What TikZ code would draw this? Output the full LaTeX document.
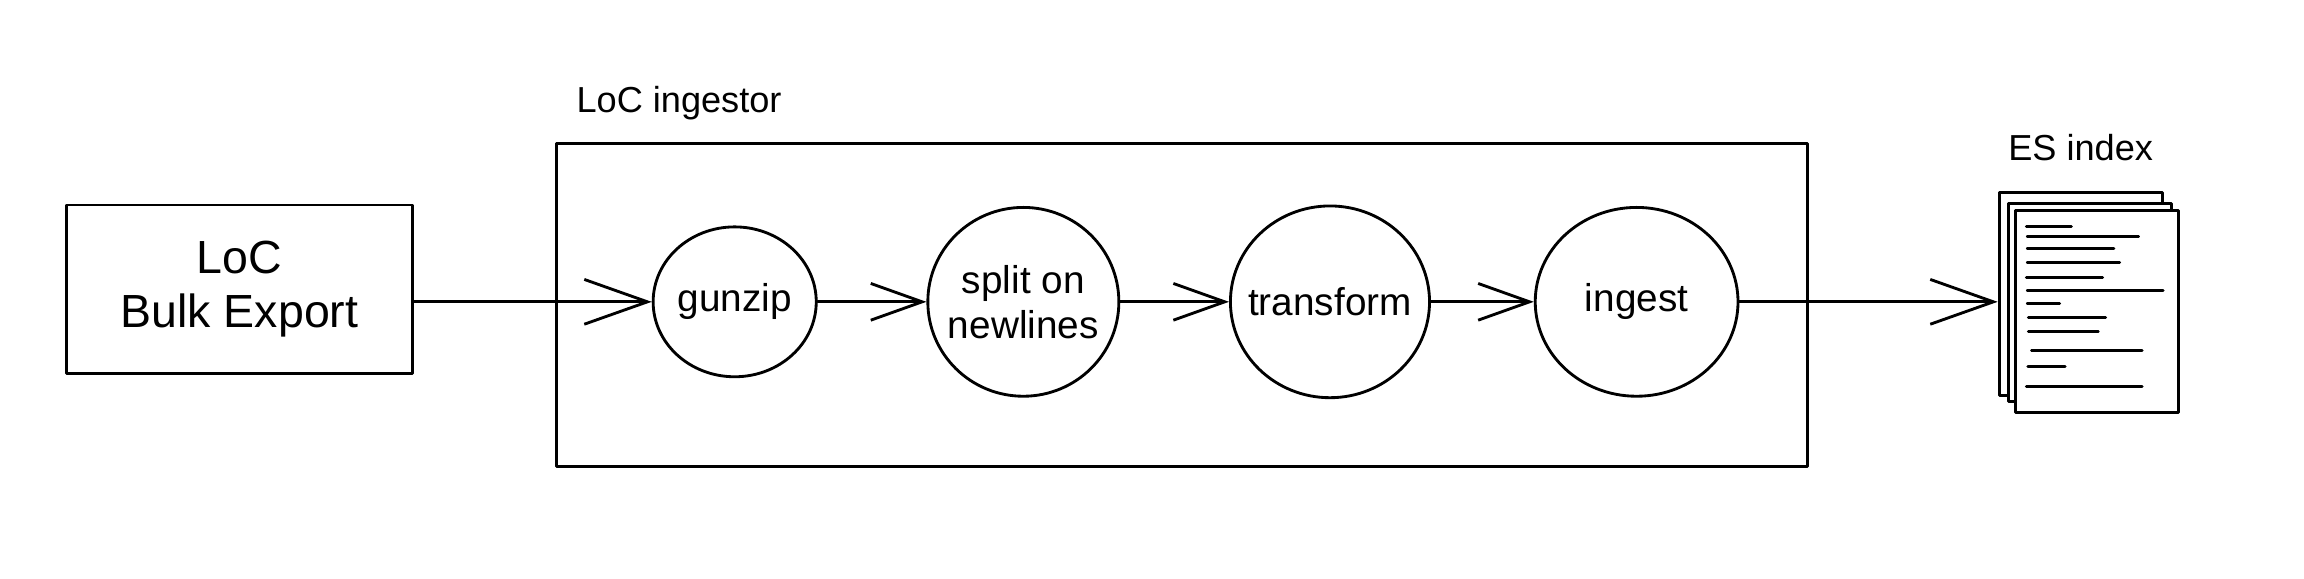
\documentclass[tikz,border=0pt]{standalone}
\usepackage{fontspec}
\setmainfont{Liberation Sans}
\usetikzlibrary{shapes.geometric,positioning,arrows.meta}

\tikzset{
  box/.style={rectangle, draw, line width=1.1pt, inner sep=0pt},
  stage/.style={ellipse, draw, line width=1.1pt, inner xsep=-2mm, inner ysep=0pt, align=center, font=\fontsize{15pt}{17.5pt}\selectfont},
  sheet/.style={rectangle, draw, fill=white, line width=1.1pt, minimum width=22.2mm, inner sep=0pt},
  flow/.style={line width=1.1pt, -{Straight Barb[length=7mm,width=5mm]}},
  longflow/.style={line width=1.1pt, -{Straight Barb[length=8.6mm,width=6.1mm]}},
  caption/.style={font=\fontsize{14pt}{16pt}\selectfont, inner sep=0pt},
}

\begin{document}
\begin{tikzpicture}[x=0.2mm, y=-0.2mm, line cap=round, line join=round, node distance=14.8mm]
    \useasboundingbox (0,0) rectangle (1568,393.4);
    % source and the ingestor frame
    \node (bulk) [box, minimum width=47.2mm, minimum height=22.9mm, align=center, font=\fontsize{18pt}{21pt}\selectfont] at (163,196.8) {LoC\\Bulk Export};
    \node (ingestor) [box, minimum width=170.2mm, minimum height=44mm] at (804.5,207.7) {};
    \node (ingestorlabel) [caption, above right=4.1mm and 2.8mm of ingestor.north west, anchor=base west] {LoC ingestor};

    % pipeline stages
    \node (gunzip) [stage, minimum width=22.2mm, minimum height=20.4mm] at (500,205.4) {gunzip};
    \node (split) [stage, minimum width=26mm, minimum height=25.7mm, right=of gunzip] {split on\\newlines};
    \node (transform) [stage, minimum width=27.1mm, minimum height=26.1mm, right=of split] {transform};
    \node (ingest) [stage, minimum width=27.6mm, minimum height=25.7mm, right=14mm of transform] {ingest};

    % index as a stack of sheets
    \node (esback) [sheet, minimum height=27.6mm] at (1416,200) {};
    \node (esmid) [sheet, minimum height=27mm] at (1422.3,206) {};
    \node (esfront) [sheet, minimum height=27.5mm] at (1427.3,211.8) {};
    \node (eslabel) [caption, above=4.2mm of esback.north, anchor=base] {ES index};
    \foreach \xa/\xb/\y in {1379/1409.7/154.3, 1379.6/1455.4/161.1, 1379.6/1438.6/169, 1379.6/1442.6/178.6,
                            1379/1431/189, 1379.6/1472.2/197.9, 1379.6/1401.7/206.5, 1380.4/1433/216,
                            1380.4/1428/225.8, 1382.5/1457.8/238.3, 1380/1405.4/249.6, 1379/1457.8/263.2}
        \draw[line width=1.1pt] (\xa,\y) -- (\xb,\y);

    % connectors
    \draw[longflow] (bulk.east |- gunzip) -- (gunzip);
    \draw[flow] (gunzip) -- (split);
    \draw[flow] (split) -- (transform);
    \draw[flow] (transform) -- (ingest);
    \draw[longflow] (ingest) -- (ingest -| esback.west);
\end{tikzpicture}
\end{document}
